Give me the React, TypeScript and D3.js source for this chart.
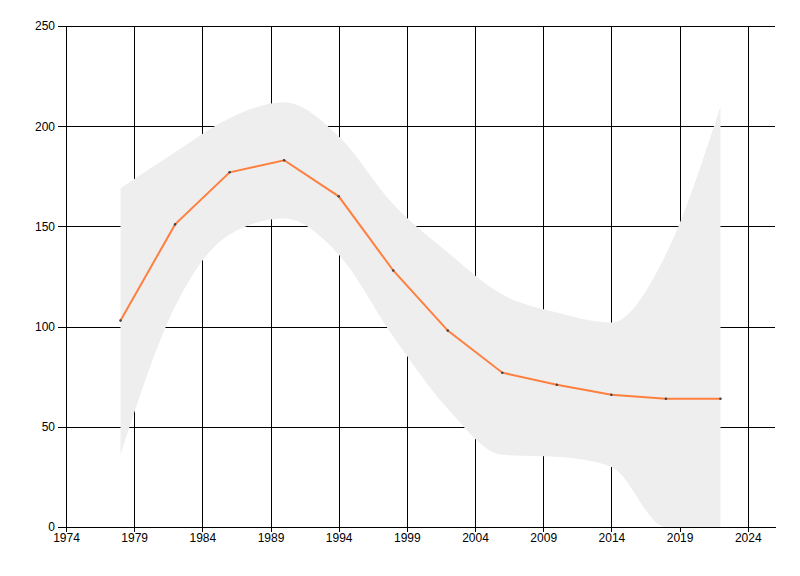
import React, { useEffect, useRef } from 'react';
import * as d3 from 'd3';

const years = [1978, 1982, 1986, 1990, 1994, 1998, 2002, 2006, 2010, 2014, 2018, 2022];
const values = [103, 151, 177, 183, 165, 128, 98, 77, 71, 66, 64, 64];
const upper = [169, 187, 204, 212, 195, 161, 137, 116, 107, 102, 136, 210];
const lower = [36, 110, 146, 154, 136, 95, 59, 36, 35, 30, 0, 0];
const xTicks = [1974, 1979, 1984, 1989, 1994, 1999, 2004, 2009, 2014, 2019, 2024];
const yTicks = [0, 50, 100, 150, 200, 250];

const App: React.FC = () => {
  const ref = useRef<SVGSVGElement>(null);

  useEffect(() => {
    const svg = d3.select(ref.current);
    svg.selectAll('*').remove();

    const left = 66;
    const right = 775;
    const top = 26;
    const bottom = 527;

    const x = d3.scaleLinear().domain([1974, 2026]).range([left, right]);
    const y = d3.scaleLinear().domain([0, 250]).range([bottom, top]);

    const data = years.map((yr, i) => ({ yr, v: values[i], hi: upper[i], lo: lower[i] }));

    // grid
    const grid = svg.append('g').attr('stroke', '#000').attr('stroke-width', 1).attr('shape-rendering', 'crispEdges');
    grid
      .selectAll('.vx')
      .data(xTicks)
      .enter()
      .append('line')
      .attr('x1', (d) => Math.round(x(d)) + 0.5)
      .attr('x2', (d) => Math.round(x(d)) + 0.5)
      .attr('y1', top)
      .attr('y2', bottom);
    grid
      .selectAll('.hy')
      .data(yTicks)
      .enter()
      .append('line')
      .attr('x1', left)
      .attr('x2', right)
      .attr('y1', (d) => Math.round(y(d)) + 0.5)
      .attr('y2', (d) => Math.round(y(d)) + 0.5);

    // confidence band
    const area = d3
      .area<typeof data[number]>()
      .x((d) => x(d.yr))
      .y0((d) => y(d.lo))
      .y1((d) => y(d.hi))
      .curve(d3.curveMonotoneX);
    svg.append('path').datum(data).attr('d', area).attr('fill', '#eeeeee');

    // line
    const line = d3
      .line<typeof data[number]>()
      .x((d) => x(d.yr))
      .y((d) => y(d.v));
    svg
      .append('path')
      .datum(data)
      .attr('d', line)
      .attr('fill', 'none')
      .attr('stroke', '#ff7f3f')
      .attr('stroke-width', 2);

    svg
      .selectAll('.dot')
      .data(data)
      .enter()
      .append('circle')
      .attr('cx', (d) => x(d.yr))
      .attr('cy', (d) => y(d.v))
      .attr('r', 1.3)
      .attr('fill', '#444');

    // axes (d3 adds its own 0.5 offset)
    const xAxis = svg
      .append('g')
      .attr('transform', `translate(0,${bottom})`)
      .call(d3.axisBottom(x).tickValues(xTicks).tickFormat(d3.format('d')).tickSize(5).tickSizeOuter(0));
    const yAxis = svg
      .append('g')
      .attr('transform', `translate(${left},0)`)
      .call(d3.axisLeft(y).tickValues(yTicks).tickSize(8).tickSizeOuter(0));

    [xAxis, yAxis].forEach((g) => {
      g.attr('font-family', '"Liberation Sans", Arial, sans-serif').attr('font-size', 12);
      g.selectAll('path').attr('stroke', '#000').attr('shape-rendering', 'crispEdges');
      g.selectAll('line').attr('stroke', '#000').attr('shape-rendering', 'crispEdges');
      g.selectAll('text').attr('fill', '#000');
    });
    xAxis.selectAll('text').attr('dy', '0.6em');
    yAxis.selectAll('text').attr('x', -11);
  }, []);

  return (
    <svg
      ref={ref}
      width={800}
      height={576}
      style={{ position: 'absolute', left: 0, top: 0, background: '#fff' }}
    />
  );
};

export default App;
